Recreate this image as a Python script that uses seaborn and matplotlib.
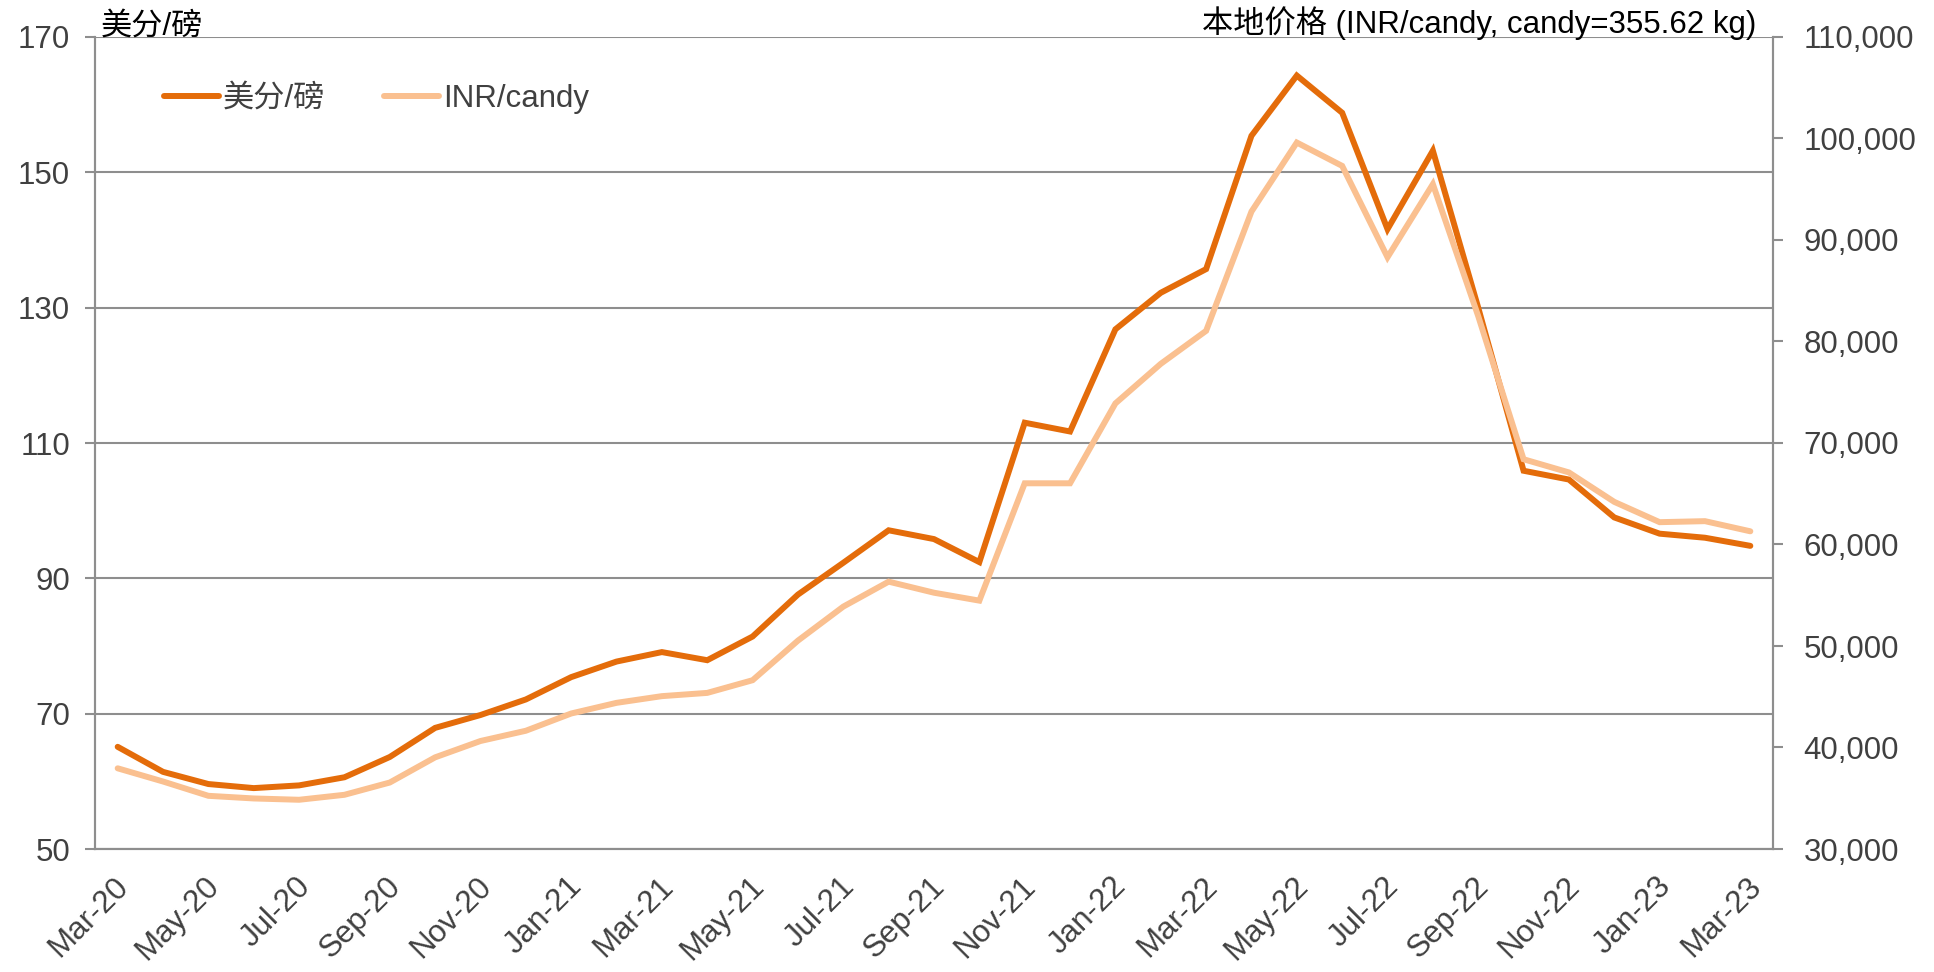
import matplotlib
matplotlib.use("Agg")
import matplotlib.pyplot as plt
import matplotlib.transforms as mtransforms
from matplotlib.ticker import FuncFormatter, FixedLocator
import seaborn as sns
import pandas as pd

months = ["Mar-20", "Apr-20", "May-20", "Jun-20", "Jul-20", "Aug-20", "Sep-20", "Oct-20",
          "Nov-20", "Dec-20", "Jan-21", "Feb-21", "Mar-21", "Apr-21", "May-21", "Jun-21",
          "Jul-21", "Aug-21", "Sep-21", "Oct-21", "Nov-21", "Dec-21", "Jan-22", "Feb-22",
          "Mar-22", "Apr-22", "May-22", "Jun-22", "Jul-22", "Aug-22", "Sep-22", "Oct-22",
          "Nov-22", "Dec-22", "Jan-23", "Feb-23", "Mar-23"]

usc_lb = [65.1, 61.4, 59.6, 59.0, 59.4, 60.6, 63.6, 67.9, 69.8, 72.1,
          75.4, 77.7, 79.1, 77.9, 81.4, 87.6, 92.3, 97.1, 95.8, 92.4,
          113.0, 111.7, 126.8, 132.2, 135.7, 155.4, 164.3, 158.8, 141.6, 153.2,
          130.0, 105.9, 104.6, 99.0, 96.6, 96.0, 94.8]

inr_candy = [37950, 36650, 35240, 34980, 34850, 35340, 36550, 39030, 40640, 41650,
             43350, 44400, 45060, 45380, 46630, 50530, 53880, 56340, 55250, 54470,
             66030, 66030, 73900, 77800, 81050, 92800, 99600, 97300, 88300, 95500,
             82500, 68400, 67100, 64200, 62200, 62300, 61300]

series_names = ["美分/磅", "INR/candy"]
left_title = "美分/磅"
right_title = "本地价格 (INR/candy, candy=355.62 kg)"
left_ticks = [50, 70, 90, 110, 130, 150, 170]
right_ticks = [30000, 40000, 50000, 60000, 70000, 80000, 90000, 100000, 110000]

DARK = "#E46C0A"
LIGHT = "#FAC090"
GRID = "#8E8E8E"
TXT = "#404040"
FS = 22.5

sns.set_style("white")
plt.rcParams["font.family"] = ["Liberation Sans", "Noto Sans CJK SC", "DejaVu Sans"]

df = pd.DataFrame({"idx": range(len(months)), "month": months,
                   "usc": usc_lb, "inr": inr_candy})

W, H = 1934, 972
fig = plt.figure(figsize=(W / 100, H / 100), dpi=100)
left, right, top, bottom = 95, 1773, 37, 849
ax = fig.add_axes([left / W, 1 - bottom / H, (right - left) / W, (bottom - top) / H])
ax2 = ax.twinx()

sns.lineplot(data=df, x="idx", y="usc", ax=ax, color=DARK, linewidth=4.3,
             label=series_names[0], legend=False)
sns.lineplot(data=df, x="idx", y="inr", ax=ax2, color=LIGHT, linewidth=4.3,
             label=series_names[1], legend=False)
for ln in ax.lines + ax2.lines:
    ln.set_solid_capstyle("round")
    ln.set_solid_joinstyle("miter")

n = len(months)
ax.set_xlim(-0.5, n - 0.5)
ax.set_ylim(50, 170)
ax2.set_ylim(30000, 110000)
ax.set_xlabel("")
ax.set_ylabel("")
ax2.set_ylabel("")

# x ticks: marks at category boundaries, labels every 2 months
ax.xaxis.set_minor_locator(FixedLocator([i - 0.5 for i in range(0, n, 2)]))
ax.set_xticks(list(range(0, n, 2)))
ax.set_xticklabels(months[::2])
ax.tick_params(axis="x", which="major", length=0, pad=16, labelsize=FS, labelcolor=TXT)
ax.tick_params(axis="x", which="minor", length=9, width=1.5, color=GRID, direction="out")
for lab in ax.get_xticklabels():
    lab.set_rotation(45)
    lab.set_ha("right")
    lab.set_va("top")
    lab.set_rotation_mode("anchor")
    lab.set_transform(lab.get_transform() +
                      mtransforms.ScaledTranslation(-4 / 100, 0, fig.dpi_scale_trans))

ax.set_yticks(left_ticks)
ax.tick_params(axis="y", length=7, width=1.5, color=GRID, pad=11, labelsize=FS, labelcolor=TXT)
ax2.set_yticks(right_ticks)
ax2.yaxis.set_major_formatter(FuncFormatter(lambda v, p: f"{int(v):,}"))
ax2.tick_params(axis="y", length=7, width=1.5, color=GRID, pad=15, labelsize=FS, labelcolor=TXT)

ax.grid(True, axis="y", color=GRID, linewidth=1.5)
ax.grid(False, axis="x")
ax2.grid(False)
ax.set_axisbelow(True)

for a in (ax, ax2):
    a.spines["top"].set_visible(False)
    for s in ("left", "right", "bottom"):
        a.spines[s].set_color(GRID)
        a.spines[s].set_linewidth(1.5)

ax.text(6 / 1678, 1 + 2 / 812, left_title, transform=ax.transAxes, ha="left",
        va="baseline", fontsize=FS, color="black")
ax.text(0.990, 1 + 4 / 812, right_title, transform=ax.transAxes, ha="right",
        va="baseline", fontsize=FS, color="black")

handles = ax.get_lines()[:1] + ax2.get_lines()[:1]
leg = ax2.legend(handles, series_names, loc="center left",
                 bbox_to_anchor=(69 / 1678, (849 - 99) / 812), frameon=False,
                 ncol=2, fontsize=FS, handlelength=1.75, handletextpad=0.12,
                 columnspacing=1.9, borderaxespad=0, borderpad=0)
for t in leg.get_texts():
    t.set_color(TXT)

fig.savefig("out.png", dpi=100)
